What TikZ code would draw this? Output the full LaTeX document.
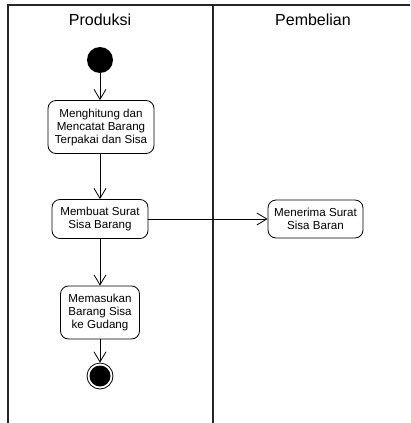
\documentclass[tikz,border=0pt]{standalone}
\usepackage{fontspec}
\setmainfont{Liberation Sans}
\usetikzlibrary{arrows.meta,positioning}

\begin{document}
\begin{tikzpicture}[x=1pt, y=-1pt, >={Straight Barb[length=10pt,width=12pt]}, line width=0.8pt,
    aksi/.style={draw, rounded corners=8pt, align=center, inner sep=0pt,
      font=\fontsize{11.6}{13}\selectfont},
    jalur/.style={line width=1.2pt, black!85},
    judul/.style={font=\fontsize{16}{18}\selectfont}]
    \useasboundingbox (0,0) rectangle (410,423);
    % swimlanes
    \draw[jalur] (8,423) -- (8,5) -- (410,5);
    \draw[jalur] (213,5) -- (213,423);
    \node[judul] (produksi) at (100,20) {Produksi};
    \node[judul] (pembelian) at (313,20) {Pembelian};
    % awal dan akhir
    \node[circle, fill=black, minimum size=26pt, inner sep=0pt] (awal) at (100,60) {};
    \node[circle, draw, minimum size=26pt, inner sep=0pt] (akhir) at (100,376) {};
    \node[circle, fill=black, minimum size=21pt, inner sep=0pt] (akhirisi) at (akhir) {};
    % aktivitas
    \node[aksi, minimum width=106pt, minimum height=53pt] (hitung) at (101,127) {Menghitung dan\\Mencatat Barang\\Terpakai dan Sisa};
    \node[aksi, minimum width=96pt, minimum height=39pt] (surat) at (100,219) {Membuat Surat\\Sisa Barang};
    \node[aksi, minimum width=95pt, minimum height=38pt] (terima) at (315.5,219) {Menerima Surat\\Sisa Baran};
    \node[aksi, minimum width=79pt, minimum height=53pt] (masuk) at (100,312.5) {Memasukan\\Barang Sisa\\ke Gudang};
    % alur
    \draw[->] (awal) -- (awal |- hitung.north);
    \draw[->] (awal |- hitung.south) -- (awal |- surat.north);
    \draw[->] (surat.east) -- (terima.west);
    \draw[->] (awal |- surat.south) -- (awal |- masuk.north);
    \draw[->] (masuk) -- (akhir);
\end{tikzpicture}
\end{document}
